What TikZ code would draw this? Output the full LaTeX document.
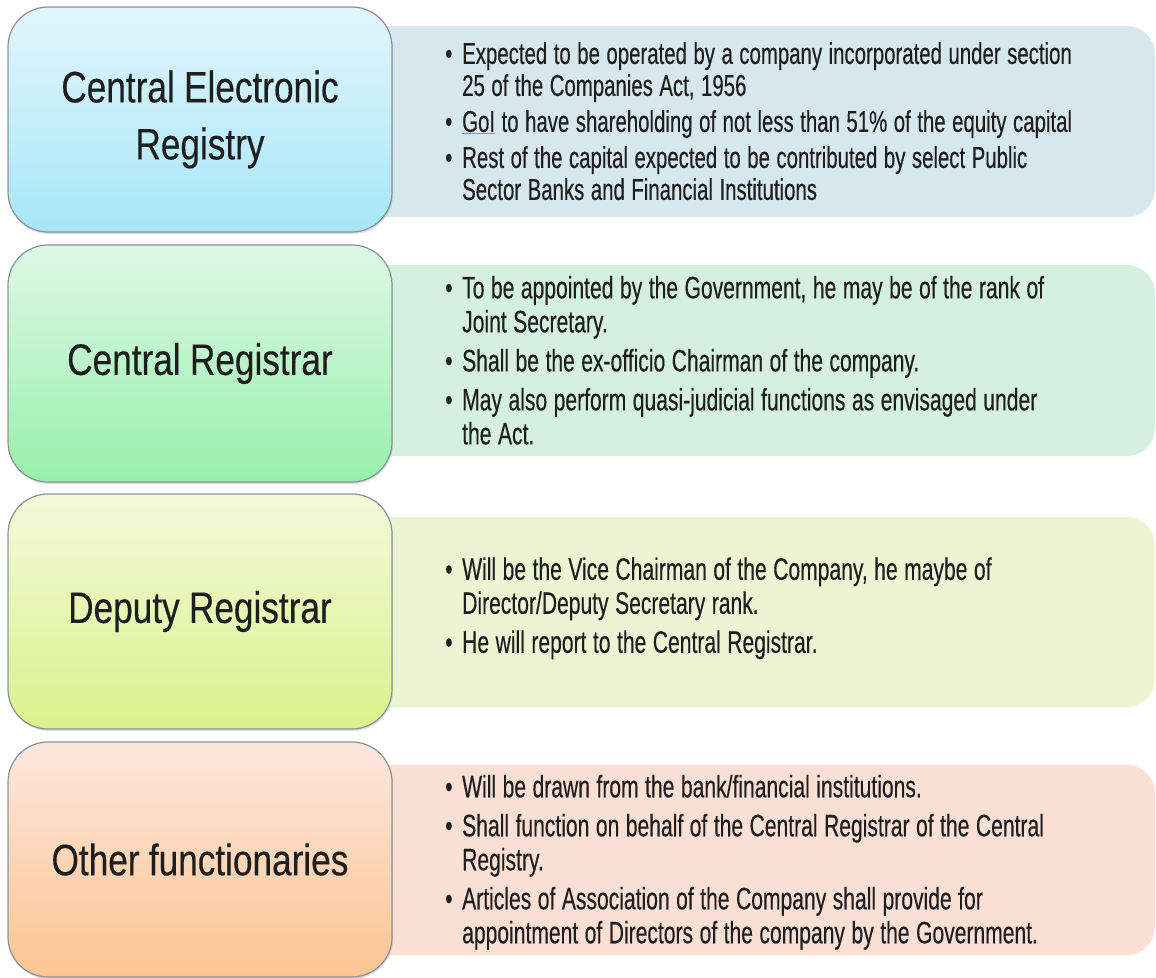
\documentclass[tikz,border=0pt]{standalone}
\usepackage{fontspec}
\newfontfamily\agency[FakeStretch=0.68,FakeBold=0.3]{Liberation Sans}
\newfontfamily\agencytitle[FakeStretch=0.8,FakeBold=0.3,WordSpace=0.95]{Liberation Sans}
\usetikzlibrary{shadows}

\definecolor{inkgray}{HTML}{1E1E1E}
\definecolor{rimgray}{HTML}{8A9296}
\definecolor{cerTop}{HTML}{E2F6FC}
\definecolor{cerBot}{HTML}{A6E6F8}
\definecolor{cerPanel}{HTML}{D6E7EE}
\definecolor{crTop}{HTML}{DEF8E6}
\definecolor{crBot}{HTML}{98F0AA}
\definecolor{crPanel}{HTML}{D5F0E0}
\definecolor{drTop}{HTML}{F2FADA}
\definecolor{drBot}{HTML}{DAF28C}
\definecolor{drPanel}{HTML}{EBF5D4}
\definecolor{ofTop}{HTML}{FDE7DD}
\definecolor{ofBot}{HTML}{FBC592}
\definecolor{ofPanel}{HTML}{FADFD5}

\newcommand{\pointsetup}[1]{\spaceskip=6.5pt plus 1pt\relax\setlength{\parskip}{#1}}
\newcommand{\bitem}[1]{\par\hangindent=17pt\hangafter=1\noindent\makebox[17pt][l]{\textbullet}#1\par}

\begin{document}
\begin{tikzpicture}[x=1pt,y=-1pt,
	rolebox/.style={rectangle,rounded corners=40pt,draw=rimgray,line width=1.2pt,minimum width=384pt,
		drop shadow={opacity=0.25,shadow xshift=1pt,shadow yshift=-2pt},
		align=center,text=inkgray,font=\agencytitle\fontsize{44}{57}\selectfont},
	panel/.style={rectangle,rounded corners=28pt,draw=none,minimum width=855pt,anchor=east},
	points/.style={anchor=west,align=left,text width=700pt,inner sep=0pt,text=inkgray,
		font=\agency\fontsize{31}{34}\selectfont}]
	\useasboundingbox (0,0) rectangle (1156,977);
	\node[panel,fill=cerPanel,minimum height=191pt] (cer-p) at (1155,121.5) {};
	\node[panel,fill=crPanel,minimum height=191pt] (cr-p) at (1155,360.5) {};
	\node[panel,fill=drPanel,minimum height=190pt] (dr-p) at (1155,612) {};
	\node[panel,fill=ofPanel,minimum height=190pt] (of-p) at (1155,860) {};
	\node[rolebox,top color=cerTop,bottom color=cerBot,minimum height=225pt] (cer) at (200,119.5) {Central Electronic\\Registry};
	\node[rolebox,top color=crTop,bottom color=crBot,minimum height=237pt] (cr) at (200,363.5) {Central Registrar};
	\node[rolebox,top color=drTop,bottom color=drBot,minimum height=235pt] (dr) at (200,611.5) {Deputy Registrar};
	\node[rolebox,top color=ofTop,bottom color=ofBot,minimum height=235pt] (of) at (200,859.5) {Other functionaries};
	\node[points] (cer-t) at (445,114) {\fontsize{30}{32}\selectfont\pointsetup{4pt}%
		\bitem{Expected to be operated by a company incorporated under section\newline 25 of the Companies Act, 1956}
		\bitem{{\color{red!60}\underline{\color{inkgray}GoI}} to have shareholding of not less than 51\% of the equity capital}
		\bitem{Rest of the capital expected to be contributed by select Public\newline Sector Banks and Financial Institutions}};
	\node[points] (cr-t) at (445,352) {\pointsetup{5pt}%
		\bitem{To be appointed by the Government, he may be of the rank of\newline Joint Secretary.}
		\bitem{Shall be the ex-officio Chairman of the company.}
		\bitem{May also perform quasi-judicial functions as envisaged under\newline the Act.}};
	\node[points] (dr-t) at (445,600) {\pointsetup{5pt}%
		\bitem{Will be the Vice Chairman of the Company, he maybe of\newline Director/Deputy Secretary rank.}
		\bitem{He will report to the Central Registrar.}};
	\node[points] (of-t) at (445,854) {\pointsetup{5pt}%
		\bitem{Will be drawn from the bank/financial institutions.}
		\bitem{Shall function on behalf of the Central Registrar of the Central\newline Registry.}
		\bitem{Articles of Association of the Company shall provide for\newline appointment of Directors of the company by the Government.}};
\end{tikzpicture}
\end{document}
